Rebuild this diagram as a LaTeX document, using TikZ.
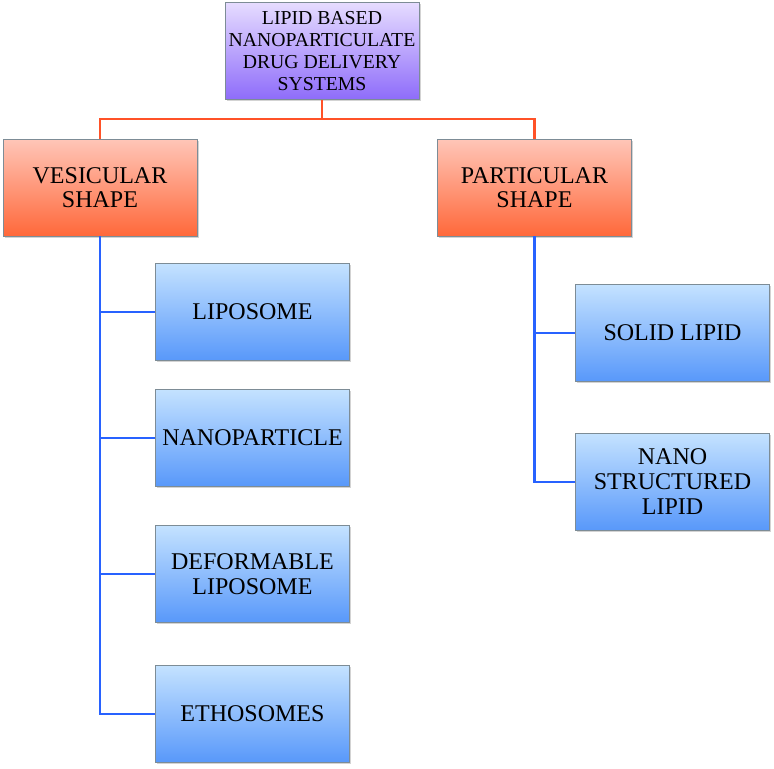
\documentclass[tikz,border=0pt]{standalone}
\usepackage{fontspec}
\setmainfont{Liberation Serif}
\usetikzlibrary{shadows}
\definecolor{lilaTop}{RGB}{230,220,255}
\definecolor{lilaBot}{RGB}{142,108,250}
\definecolor{orngTop}{RGB}{255,198,184}
\definecolor{orngBot}{RGB}{255,104,58}
\definecolor{bluTop}{RGB}{196,226,255}
\definecolor{bluBot}{RGB}{88,152,250}
\definecolor{orngLine}{RGB}{255,82,40}
\definecolor{bluLine}{RGB}{40,98,255}
\definecolor{edgeGray}{RGB}{125,140,150}
\tikzset{
	box/.style={rectangle, draw=edgeGray, line width=0.5pt, align=center,
		minimum width=145.5pt, minimum height=72.75pt, inner sep=2pt,
		drop shadow={shadow xshift=1.2pt, shadow yshift=-1.2pt, opacity=0.35}},
	rootbox/.style={box, top color=lilaTop, bottom color=lilaBot,
		font=\fontsize{14.8}{16.5}\selectfont},
	shapebox/.style={box, top color=orngTop, bottom color=orngBot,
		font=\fontsize{18}{18}\selectfont},
	leafbox/.style={box, top color=bluTop, bottom color=bluBot,
		font=\fontsize{18}{18.8}\selectfont},
	redline/.style={draw=orngLine, line width=1.7pt},
	blueline/.style={draw=bluLine, line width=1.7pt}
}
\begin{document}
\begin{tikzpicture}[x=0.75pt, y=-0.75pt]
	\useasboundingbox (0,0) rectangle (774,768);
	% root
	\node[rootbox] (root) at (322,51) {LIPID BASED\\NANOPARTICULATE\\DRUG DELIVERY\\SYSTEMS};
	% shapes
	\node[shapebox] (vesic) at (100,187.5) {VESICULAR\\SHAPE};
	\node[shapebox] (partic) at (534.5,187.5) {PARTICULAR\\SHAPE};
	% vesicular carriers
	\node[leafbox] (lipo) at (252.5,312) {LIPOSOME};
	\node[leafbox] (nanop) at (252.5,438) {NANOPARTICLE};
	\node[leafbox] (deform) at (252.5,574) {DEFORMABLE\\LIPOSOME};
	\node[leafbox] (etho) at (252.5,714) {ETHOSOMES};
	% particular carriers
	\node[leafbox] (solid) at (672.5,333) {SOLID LIPID};
	\node[leafbox] (nlc) at (672.5,482) {NANO\\STRUCTURED\\LIPID};
	% connectors
	\coordinate (bus) at (322,119);
	\draw[redline] (root.south) -- (bus) -| (vesic.north);
	\draw[redline] (bus) -| (partic.north);
	\foreach \leaf in {lipo,nanop,deform,etho}
		\draw[blueline] (vesic.south) |- (\leaf.west);
	\foreach \leaf in {solid,nlc}
		\draw[blueline] (partic.south) |- (\leaf.west);
\end{tikzpicture}
\end{document}
